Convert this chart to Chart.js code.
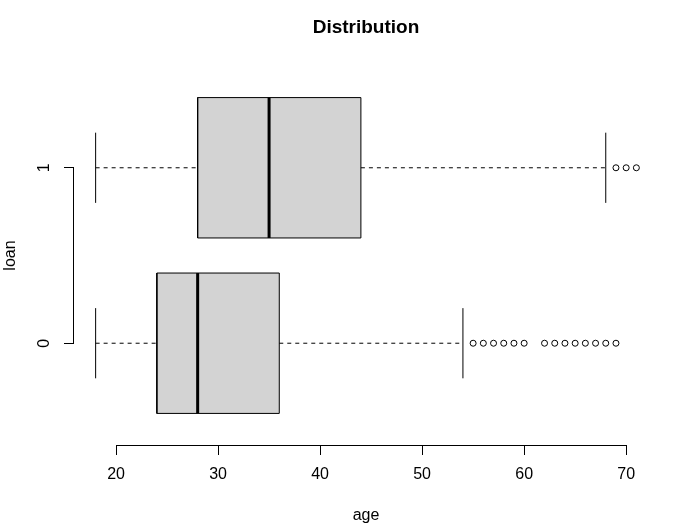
<!DOCTYPE html>
<html><head><meta charset="utf-8">
<script src="https://cdn.jsdelivr.net/npm/chart.js@4/dist/chart.umd.min.js"></script>
<style>html,body{margin:0;padding:0;background:#fff;}canvas{display:block;}</style>
</head><body>
<canvas id="c" width="689" height="528"></canvas>
<script>
// ---- data ----
const categories = ['0', '1'];
const groupPos = [1, 2];
const lowerWhisker = [18, 18];
const q1 = [24, 28];
const median = [28, 35];
const q3 = [36, 44];
const upperWhisker = [54, 68];
const outliers0 = [55, 56, 57, 58, 59, 60, 62, 63, 64, 65, 66, 67, 68, 69];
const outliers1 = [69, 70, 71];
const outliers = [outliers0, outliers1];
const xTicks = [20, 30, 40, 50, 60, 70];
const titleText = 'Distribution';
const xLabel = 'age';
const yLabel = 'loan';

// ---- styling ----
const FONT = "'Liberation Sans', Arial, sans-serif";
Chart.defaults.font.family = FONT;
Chart.defaults.color = '#000';
const BOX_HALF = 0.4, STAPLE_HALF = 0.2;

// value range (R style 4% expansion)
const allVals = [...lowerWhisker, ...upperWhisker, ...outliers0, ...outliers1];
const vLo = Math.min(...allVals), vHi = Math.max(...allVals);
const vPad = (vHi - vLo) * 0.04;
const gLo = 0.5, gHi = groupPos.length + 0.5, gPad = (gHi - gLo) * 0.04;

const datasets = [];
datasets.push({
  type: 'bar', indexAxis: 'y',
  data: groupPos.map((g, i) => ({ y: g, x: [q1[i], q3[i]] })),
  backgroundColor: '#d3d3d3', borderWidth: 0,
  barPercentage: 1, categoryPercentage: 0.8, order: 10
});
const seg = (pts, extra) => Object.assign({
  type: 'line', data: pts, borderColor: '#000', borderWidth: 1,
  pointRadius: 0, fill: false, tension: 0, order: 2
}, extra || {});
groupPos.forEach((g, i) => {
  // box outline
  datasets.push(seg([
    { x: q1[i], y: g - BOX_HALF }, { x: q3[i], y: g - BOX_HALF },
    { x: q3[i], y: g + BOX_HALF }, { x: q1[i], y: g + BOX_HALF },
    { x: q1[i], y: g - BOX_HALF }
  ], { borderJoinStyle: 'miter', order: 3 }));
  datasets.push(seg([{ x: lowerWhisker[i], y: g }, { x: q1[i], y: g }], { borderDash: [4, 4] }));
  datasets.push(seg([{ x: q3[i], y: g }, { x: upperWhisker[i], y: g }], { borderDash: [4, 4] }));
  datasets.push(seg([{ x: lowerWhisker[i], y: g - STAPLE_HALF }, { x: lowerWhisker[i], y: g + STAPLE_HALF }]));
  datasets.push(seg([{ x: upperWhisker[i], y: g - STAPLE_HALF }, { x: upperWhisker[i], y: g + STAPLE_HALF }]));
  datasets.push(seg([{ x: median[i], y: g - BOX_HALF }, { x: median[i], y: g + BOX_HALF }], { borderWidth: 3, order: 0 }));
  datasets.push({
    type: 'scatter', data: outliers[i].map(v => ({ x: v, y: g })),
    pointStyle: 'circle', pointRadius: 3, pointBorderWidth: 1,
    borderColor: '#000', backgroundColor: 'rgba(0,0,0,0)', pointBackgroundColor: 'rgba(0,0,0,0)',
    pointBorderColor: '#000', showLine: false, order: 1
  });
});

const axisLines = {
  id: 'axisLines',
  afterDraw(chart) {
    const { ctx, scales: { x, y } } = chart;
    ctx.save();
    ctx.strokeStyle = '#000';
    ctx.lineWidth = 1;
    ctx.beginPath();
    const ay = Math.round(x.top) + 0.5;
    ctx.moveTo(Math.round(x.getPixelForValue(xTicks[0]) - 0.5), ay);
    ctx.lineTo(Math.round(x.getPixelForValue(xTicks[xTicks.length - 1]) - 0.5) + 1, ay);
    const ax = Math.round(y.right) - 0.5;
    ctx.moveTo(ax, Math.round(y.getPixelForValue(groupPos[groupPos.length - 1]) - 0.5));
    ctx.lineTo(ax, Math.round(y.getPixelForValue(groupPos[0]) - 0.5) + 1);
    ctx.stroke();
    ctx.restore();
  }
};

new Chart(document.getElementById('c'), {
  type: 'scatter',
  data: { datasets },
  options: {
    responsive: false, animation: false, devicePixelRatio: 1, events: [],
    layout: { padding: { left: 0, right: 31, top: 0, bottom: 0 } },
    plugins: {
      legend: { display: false },
      tooltip: { enabled: false },
      title: {
        display: true, text: titleText, fullSize: false, color: '#000',
        font: { size: 19, weight: 'bold', family: FONT, lineHeight: 1.2 },
        padding: { top: 16.5, bottom: 26.7 }
      }
    },
    scales: {
      x: {
        type: 'linear', position: 'bottom', min: vLo - vPad, max: vHi + vPad,
        beginAtZero: false, offset: false,
        afterBuildTicks: s => { s.ticks = xTicks.map(v => ({ value: v })); },
        afterFit: s => { s.height = 83; },
        border: { display: false },
        grid: { display: true, drawOnChartArea: false, drawTicks: true, tickLength: 10, color: '#000', tickColor: '#000', lineWidth: 1, offset: false },
        ticks: { font: { size: 16, family: FONT }, color: '#000', padding: 10.4, maxRotation: 0, minRotation: 0, autoSkip: false },
        title: { display: true, text: xLabel, color: '#000', font: { size: 16, family: FONT, lineHeight: 1 }, padding: { top: 0, bottom: 4.5 } }
      },
      y: {
        type: 'linear', position: 'left', min: gLo - gPad, max: gHi + gPad,
        beginAtZero: false, offset: false,
        afterBuildTicks: s => { s.ticks = groupPos.map(v => ({ value: v })); },
        afterFit: s => { s.width = 74; },
        border: { display: false },
        grid: { display: true, drawOnChartArea: false, drawTicks: true, tickLength: 10, color: '#000', tickColor: '#000', lineWidth: 1, offset: false },
        ticks: {
          font: { size: 16, family: FONT }, color: '#000', padding: 14.5,
          minRotation: 90, maxRotation: 90, crossAlign: 'center', autoSkip: false,
          callback: v => categories[groupPos.indexOf(v)]
        },
        title: { display: true, text: yLabel, color: '#000', font: { size: 16, family: FONT, lineHeight: 1 }, padding: { top: 2.5, bottom: 0 } }
      }
    }
  },
  plugins: [axisLines]
});
</script>
</body></html>
